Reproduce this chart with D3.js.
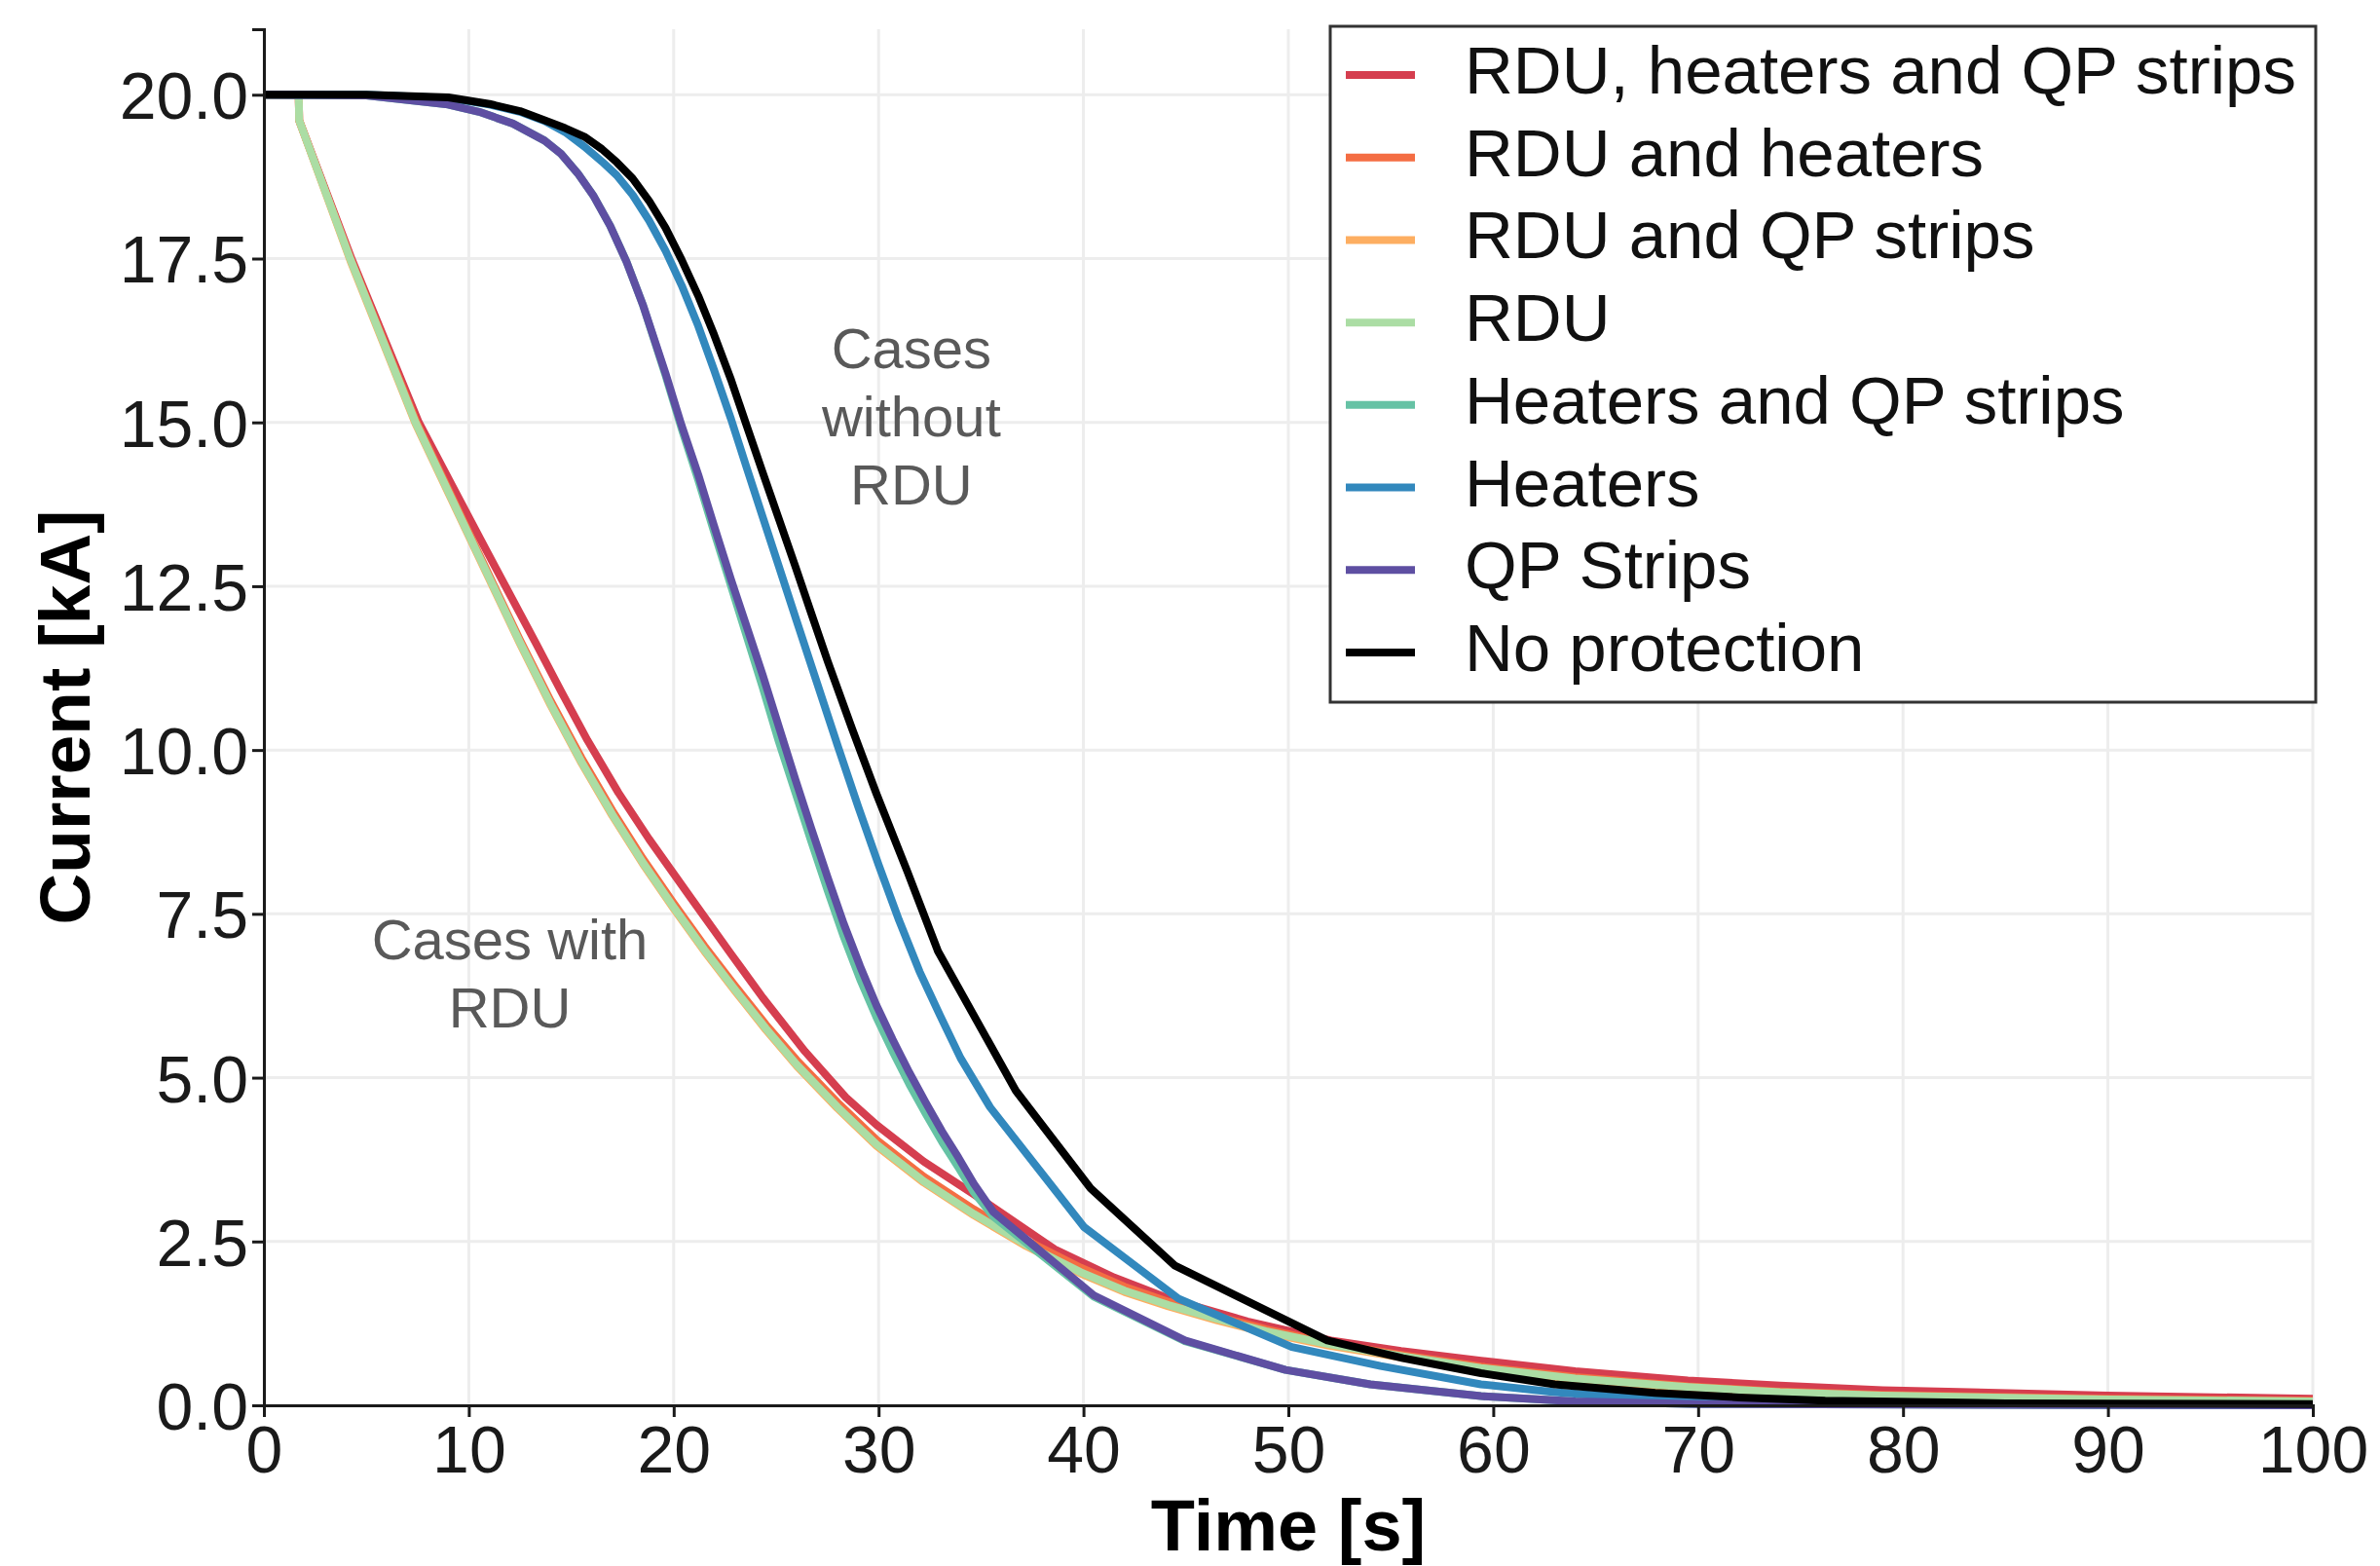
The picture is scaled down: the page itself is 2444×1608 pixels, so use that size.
<!DOCTYPE html>
<html>
<head>
<meta charset="utf-8">
<script src="https://cdn.jsdelivr.net/npm/d3@7"></script>
<style>
  html, body { margin: 0; padding: 0; background: #fff; }
  svg { display: block; }
  text { font-family: "Liberation Sans", Arial, sans-serif; }
</style>
</head>
<body>
<svg id="chart" width="2444" height="1608"></svg>
<script>
// ---------------- DATA ----------------
const seriesNames = [
  "RDU, heaters and QP strips",
  "RDU and heaters",
  "RDU and QP strips",
  "RDU",
  "Heaters and QP strips",
  "Heaters",
  "QP Strips",
  "No protection"
];
const seriesColors = ["#d53e4f", "#f46d43", "#fdae61", "#abdda4", "#66c2a5", "#3288bd", "#5e4fa2", "#000000"];

// [time s, current kA]
const rduHeatersQp = [[0,20],[1.7,20],[1.72,19.61],[4.3,17.48],[7.56,15.0],[10.73,13.12],[13.26,11.64],[14.5,10.9],[15.79,10.15],[17.3,9.35],[18.8,8.64],[20.8,7.76],[22.77,6.9],[24.35,6.22],[26.41,5.4],[28.4,4.7],[29.9,4.28],[32.2,3.72],[34.65,3.22],[38.6,2.38],[41.5,1.95],[44.15,1.63],[48,1.28],[52.08,0.99],[55.5,0.83],[59.4,0.68],[64,0.52],[69.5,0.38],[74,0.3],[79,0.23],[90,0.15],[100,0.1]];
const rduHeaters = [[0,20],[1.7,20],[1.72,19.61],[4.25,17.48],[7.45,15.0],[10.3,13.12],[12.5,11.68],[14.0,10.75],[15.5,9.88],[17.0,9.08],[18.5,8.34],[20.0,7.66],[21.5,7.01],[23.0,6.4],[24.5,5.81],[26,5.27],[28,4.62],[29.9,4.05],[32.2,3.49],[34.65,2.99],[37.2,2.52],[39.87,2.1],[42,1.81],[44.15,1.58],[46.5,1.36],[48.9,1.16],[52,0.95],[55.5,0.77],[59.4,0.59],[64,0.43],[69.5,0.29],[74,0.21],[79,0.16],[90,0.1],[100,0.07]];
const rduQp = [[0,20],[1.7,20],[1.72,19.61],[4.23,17.46],[7.4,14.98],[10.25,13.1],[12.47,11.64],[14.0,10.68],[15.5,9.8],[17.0,9.0],[18.5,8.26],[20.0,7.58],[21.5,6.93],[23.0,6.32],[24.5,5.73],[26,5.18],[28,4.53],[29.9,3.96],[32.2,3.4],[34.65,2.9],[37.2,2.43],[39.87,2.01],[42,1.73],[44.15,1.51],[46.5,1.3],[48.9,1.11],[52,0.91],[55.5,0.73],[59.4,0.55],[64,0.39],[69.5,0.26],[74,0.19],[79,0.14],[90,0.08],[100,0.05]];
const rduOnly = [[0,20],[1.7,20],[1.72,19.61],[4.23,17.48],[7.4,15.0],[10.25,13.12],[12.47,11.66],[14.0,10.7],[15.5,9.82],[17.0,9.02],[18.5,8.28],[20.0,7.6],[21.5,6.95],[23.0,6.34],[24.5,5.75],[26,5.2],[28,4.55],[29.9,3.98],[32.2,3.42],[34.65,2.92],[37.2,2.45],[39.87,2.03],[42,1.75],[44.15,1.53],[46.5,1.32],[48.9,1.13],[52,0.93],[55.5,0.75],[59.4,0.57],[64,0.41],[69.5,0.28],[74,0.2],[79,0.15],[90,0.09],[100,0.06]];
const heatersQp = [[0,20],[5,19.99],[8.98,19.85],[10.5,19.74],[12.15,19.56],[13.7,19.3],[14.5,19.1],[15.32,18.8],[16.1,18.45],[16.9,18.0],[17.7,17.45],[18.49,16.8],[19.6,15.72],[20.39,14.9],[21.2,14.12],[21.97,13.33],[22.8,12.5],[23.6,11.7],[24.35,10.95],[25.14,10.12],[25.94,9.35],[26.72,8.6],[27.52,7.85],[28.3,7.15],[29.1,6.5],[29.9,5.92],[30.69,5.4],[31.5,4.9],[32.3,4.45],[33.1,4.02],[33.9,3.63],[34.65,3.25],[35.6,2.88],[40.5,1.66],[44.95,0.98],[49.86,0.54],[54,0.32],[59.4,0.14],[64,0.06],[70,0.02],[80,0.01],[100,0]];
const heatersOnly = [[0,20],[5,20],[9,19.95],[11,19.85],[12.5,19.74],[13.7,19.6],[14.7,19.43],[15.64,19.21],[16.5,18.98],[17.22,18.77],[18,18.47],[18.8,18.08],[19.6,17.62],[20.39,17.09],[21.2,16.47],[21.97,15.8],[22.8,15.05],[23.56,14.31],[24.3,13.6],[25,12.93],[26,11.97],[27,11.02],[28,10.07],[29,9.14],[30,8.25],[31,7.4],[32,6.62],[33,5.95],[34,5.3],[35.44,4.55],[40.03,2.72],[44.63,1.63],[50.17,0.89],[54.5,0.6],[59.4,0.32],[63,0.2],[66.6,0.12],[72,0.05],[80,0.02],[100,0]];
const qpStrips = [[0,20],[5,19.99],[8.98,19.85],[10.5,19.74],[12.15,19.56],[13.7,19.3],[14.5,19.1],[15.32,18.8],[16.1,18.45],[16.9,18.0],[17.7,17.45],[18.49,16.8],[19.6,15.75],[20.39,14.95],[21.2,14.2],[21.97,13.42],[22.8,12.6],[23.6,11.85],[24.35,11.14],[25.14,10.35],[25.94,9.55],[26.72,8.8],[27.52,8.05],[28.3,7.35],[29.1,6.7],[29.9,6.1],[30.69,5.58],[31.5,5.08],[32.3,4.62],[33.1,4.18],[33.9,3.78],[34.65,3.38],[35.6,2.95],[40.5,1.68],[44.95,0.99],[49.86,0.54],[54,0.32],[59.4,0.14],[64,0.06],[70,0.02],[80,0.01],[100,0]];
const noProtection = [[0,20],[5,20],[9,19.96],[11,19.86],[12.5,19.75],[13.7,19.61],[14.7,19.49],[15.64,19.36],[16.5,19.17],[17.22,18.97],[18,18.72],[18.8,18.38],[19.6,17.97],[20.39,17.48],[21.2,16.93],[21.97,16.34],[22.8,15.65],[23.56,14.95],[24.35,14.23],[25.14,13.52],[25.94,12.8],[26.7,12.1],[27.52,11.35],[28.7,10.33],[29.9,9.33],[31.4,8.15],[32.9,6.93],[36.7,4.8],[40.35,3.31],[44.47,2.13],[51.9,0.99],[55.6,0.72],[59.4,0.49],[63,0.32],[67.9,0.19],[72,0.12],[76.2,0.07],[85,0.03],[100,0.02]];

const seriesData = [rduHeatersQp, rduHeaters, rduQp, rduOnly, heatersQp, heatersOnly, qpStrips, noProtection];

const xTicks = [0,10,20,30,40,50,60,70,80,90,100];
const yTicks = [0,2.5,5,7.5,10,12.5,15,17.5,20];
const xTitle = "Time [s]";
const yTitle = "Current [kA]";
const annotations = [
  {lines: ["Cases", "without", "RDU"], t: 31.6, i: 15.83},
  {lines: ["Cases with", "RDU"], t: 12.0, i: 6.8}
];

// ---------------- DRAW ----------------
const svg = d3.select("#chart");
const pL = 271, pR = 2375, pT = 30, pB = 1443;

const x = d3.scaleLinear().domain([0, 100]).range([pL, pR]);
const y = d3.scaleLinear().domain([0, 21]).range([pB, pT]);

// grid
const grid = svg.append("g");
grid.selectAll("line.v").data(xTicks).join("line")
  .attr("x1", d => x(d)).attr("x2", d => x(d))
  .attr("y1", pT).attr("y2", pB)
  .attr("stroke", "#ededed").attr("stroke-width", 3);
grid.selectAll("line.h").data(yTicks).join("line")
  .attr("x1", pL).attr("x2", pR)
  .attr("y1", d => y(d)).attr("y2", d => y(d))
  .attr("stroke", "#ededed").attr("stroke-width", 3);

// lines
const line = d3.line().x(d => x(d[0])).y(d => y(d[1])).curve(d3.curveLinear);
svg.append("g").selectAll("path").data(seriesData).join("path")
  .attr("d", line)
  .attr("fill", "none")
  .attr("stroke", (d, i) => seriesColors[i])
  .attr("stroke-width", 8)
  .attr("stroke-linejoin", "round")
  .attr("stroke-linecap", "butt");

// axes
const xAxis = svg.append("g").attr("transform", `translate(0,${pB})`)
  .call(d3.axisBottom(x).tickValues(xTicks).tickSize(12).tickPadding(9).tickFormat(d3.format("d")));
const yAxis = svg.append("g").attr("transform", `translate(${pL},0)`)
  .call(d3.axisLeft(y).tickValues(yTicks).tickSize(12).tickPadding(4).tickFormat(d3.format(".1f")));
[xAxis, yAxis].forEach(a => {
  a.select(".domain").attr("stroke", "#1a1a1a").attr("stroke-width", 3);
  a.selectAll(".tick line").attr("stroke", "#1a1a1a").attr("stroke-width", 3);
  a.selectAll(".tick text").attr("fill", "#1a1a1a")
    .style("font-family", "'Liberation Sans', Arial, sans-serif").style("font-size", "68px");
});
xAxis.selectAll(".tick text").attr("dy", "0.71em");
yAxis.selectAll(".tick text").attr("dy", "0.36em");

// axis titles
svg.append("text").text(xTitle)
  .attr("x", (pL + pR) / 2).attr("y", 1592)
  .attr("text-anchor", "middle")
  .style("font-size", "74px").style("font-weight", "bold").attr("fill", "#000");
svg.append("text").text(yTitle)
  .attr("transform", `translate(92,${(pT + pB) / 2}) rotate(-90)`)
  .attr("text-anchor", "middle")
  .style("font-size", "73px").style("font-weight", "bold").attr("fill", "#000");

// annotations
annotations.forEach(a => {
  const t = svg.append("text")
    .attr("text-anchor", "middle")
    .style("font-size", "58px").attr("fill", "#595959");
  a.lines.forEach((l, k) => {
    t.append("tspan").attr("x", x(a.t)).attr("y", y(a.i) + k * 70).text(l);
  });
});

// legend
const lg = svg.append("g");
lg.append("rect").attr("x", 1366).attr("y", 27).attr("width", 1012).attr("height", 694)
  .attr("fill", "#fff").attr("stroke", "#333").attr("stroke-width", 3);
const rowY = d3.scaleLinear().domain([0, 7]).range([77, 670]);
const rows = lg.selectAll("g.row").data(seriesNames).join("g")
  .attr("transform", (d, i) => `translate(0,${rowY(i)})`);
rows.append("line").attr("x1", 1382).attr("x2", 1453).attr("y1", 0).attr("y2", 0)
  .attr("stroke", (d, i) => seriesColors[i]).attr("stroke-width", 8);
rows.append("text").text(d => d)
  .attr("x", 1504).attr("y", 19)
  .style("font-size", "69px").attr("fill", "#111");
</script>
</body>
</html>
